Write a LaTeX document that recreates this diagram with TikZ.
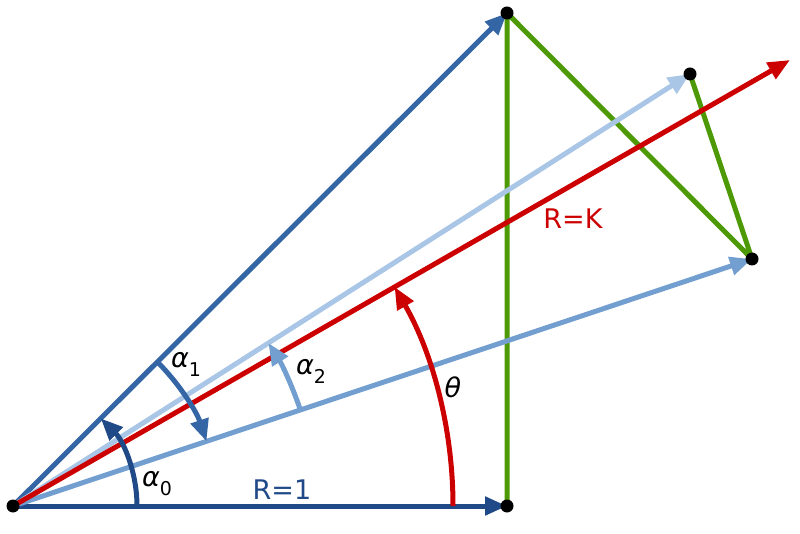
\documentclass[tikz,border=0pt]{standalone}
\usepackage{fontspec}
\setmainfont{DejaVu Sans}
\usetikzlibrary{arrows.meta}
\definecolor{navy}{HTML}{204A87}
\definecolor{midblue}{HTML}{3465A4}
\definecolor{ltblue}{HTML}{729FCF}
\definecolor{pale}{HTML}{A9C6E6}
\definecolor{tred}{HTML}{CC0000}
\definecolor{tgreen}{HTML}{4E9A06}
\tikzset{
  vec/.style={line width=5pt,-{Triangle[length=22pt,width=18pt]}},
  ang/.style={line width=5pt,-{Triangle[length=22pt,width=18pt]}},
  side/.style={line width=5pt,tgreen,line join=round},
  dot/.style={circle,fill=black,inner sep=0pt,minimum size=13pt},
  lbl/.style={font=\fontsize{27}{31}\selectfont,inner sep=0pt},
}
\newcommand{\sbs}[1]{\raisebox{-9pt}{\upshape\fontsize{19}{21}\selectfont #1}}
\begin{document}
\begin{tikzpicture}[x=1pt,y=1pt]
\useasboundingbox (0,0) rectangle (800,533);
\coordinate (O) at (13,27);
\coordinate (A) at (507,27);
\coordinate (B) at (507,520);
\coordinate (C) at (752,274);
\coordinate (D) at (690,459);
\coordinate (E) at (790,473);
% green sides
\draw[side] (A) -- (B) -- (C) -- (D);
% vectors
\draw[vec,navy] (O) -- (A);
\draw[vec,midblue] (O) -- (B);
\draw[vec,ltblue] (O) -- (C);
\draw[vec,pale] (O) -- (D);
\draw[vec,tred] (O) -- (E);
% angle arcs
\draw[ang,navy] (O) ++(0:124) arc[start angle=0,end angle=44.94,radius=124];
\draw[ang,midblue] (O) ++(44.94:204) arc[start angle=44.94,end angle=18.48,radius=204];
\draw[ang,ltblue] (O) ++(18.48:303) arc[start angle=18.48,end angle=32.54,radius=303];
\draw[ang,tred] (O) ++(0:440) arc[start angle=0,end angle=29.86,radius=440];
% dots
\node[dot] (o) at (O) {};
\node[dot] (a) at (A) {};
\node[dot] (b) at (B) {};
\node[dot] (c) at (C) {};
\node[dot] (d) at (D) {};
% labels
\node[lbl] (l0) at (157,49) {\itshape α\sbs{0}};
\node[lbl] (l1) at (186,169) {\itshape α\sbs{1}};
\node[lbl] (l2) at (311,162) {\itshape α\sbs{2}};
\node[lbl] (lt) at (453,146) {\itshape θ};
\node[lbl,text=navy] (r1) at (282,43) {R=1};
\node[lbl,text=tred] (rk) at (573,314) {R=K};
\end{tikzpicture}
\end{document}
